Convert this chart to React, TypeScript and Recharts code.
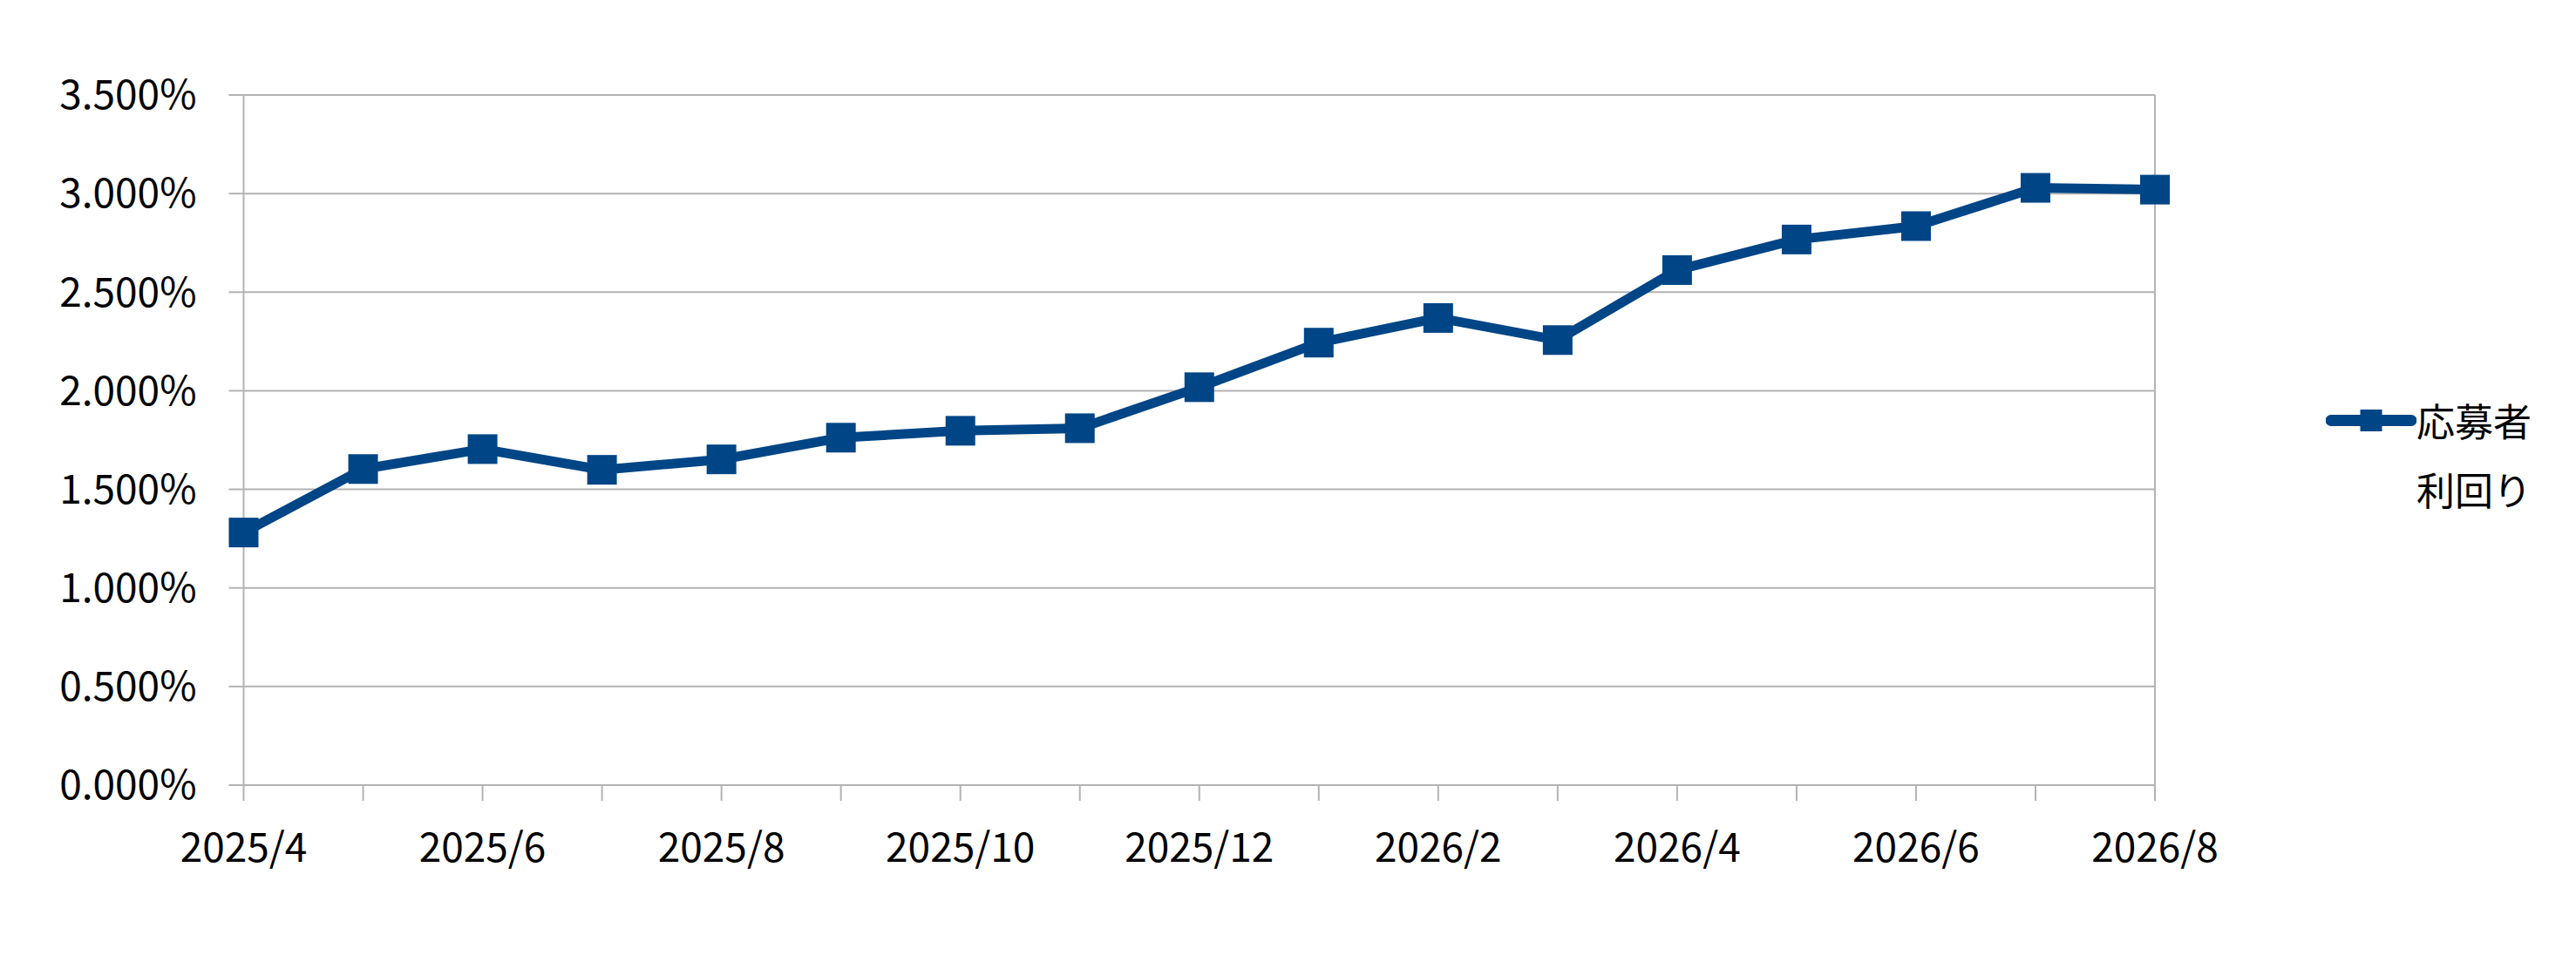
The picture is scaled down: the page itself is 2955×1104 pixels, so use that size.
import { LineChart, Line, XAxis, YAxis, CartesianGrid, Legend, ReferenceLine } from "recharts";

const MONTHS = [
  "2025/4", "2025/5", "2025/6", "2025/7", "2025/8", "2025/9", "2025/10", "2025/11",
  "2025/12", "2026/1", "2026/2", "2026/3", "2026/4", "2026/5", "2026/6", "2026/7", "2026/8",
];

// 応募者利回り (%)
const YIELD = [
  1.281, 1.603, 1.704, 1.599, 1.652, 1.762, 1.797, 1.81,
  2.018, 2.244, 2.369, 2.257, 2.612, 2.767, 2.835, 3.029, 3.02,
];

const Y_TICKS = [0, 0.5, 1, 1.5, 2, 2.5, 3, 3.5];

const SERIES_NAME = ["応募者", "利回り"];

const BLUE = "#004586";
const GRID = "#b3b3b3";
const FONT = '"Noto Sans CJK JP", "Noto Sans", sans-serif';

const data = MONTHS.map((m, i) => ({ month: m, value: YIELD[i] }));

function XTick(props: any) {
  const { x, y, payload } = props;
  const idx = props.index ?? MONTHS.indexOf(payload.value);
  if (idx % 2 !== 0) return <g />;
  return (
    <text x={x} y={y} dy="0.71em" textAnchor="middle" fill="#000" fontSize={46} fontFamily={FONT}>
      {payload.value}
    </text>
  );
}

function SquareDot(props: any) {
  const { cx, cy, index } = props;
  if (cx == null || cy == null) return <g key={`d-${index}`} />;
  return <rect key={`d-${index}`} x={cx - 17} y={cy - 17} width={34} height={34} fill={BLUE} />;
}

function LegendBox() {
  return (
    <div style={{ display: "flex", alignItems: "flex-start", fontFamily: FONT, fontSize: 44, color: "#000", lineHeight: "79px" }}>
      <svg width={104} height={79} style={{ display: "block" }}>
        <line x1={6} y1={39.5} x2={98} y2={39.5} stroke={BLUE} strokeWidth={13} strokeLinecap="round" />
        <rect x={39.5} y={27} width={25} height={25} fill={BLUE} />
      </svg>
      <div>
        {SERIES_NAME.map((s) => (
          <div key={s}>{s}</div>
        ))}
      </div>
    </div>
  );
}

export default function App() {
  return (
    <LineChart
      width={2939}
      height={1088}
      data={data}
      margin={{ top: 101, right: 475, bottom: 95, left: 0 }}
    >
      <CartesianGrid vertical={false} stroke={GRID} strokeWidth={2} />
      <XAxis
        dataKey="month"
        interval={0}
        tick={<XTick />}
        tickSize={18}
        tickMargin={37}
        height={100}
        stroke={GRID}
        strokeWidth={2}
        tickLine={{ stroke: GRID, strokeWidth: 2 }}
        axisLine={{ stroke: GRID, strokeWidth: 2 }}
      />
      <YAxis
        domain={[0, 3.5]}
        ticks={Y_TICKS}
        width={271.5}
        tickSize={17}
        tickMargin={37}
        tickFormatter={(v: number) => `${v.toFixed(3)}%`}
        tick={{ fontSize: 46, fill: "#000", fontFamily: FONT }}
        tickLine={{ stroke: GRID, strokeWidth: 2 }}
        axisLine={{ stroke: GRID, strokeWidth: 2 }}
      />
      <ReferenceLine x={MONTHS[MONTHS.length - 1]} stroke={GRID} strokeWidth={2} />
      <Legend
        layout="vertical"
        align="center"
        verticalAlign="middle"
        content={<LegendBox />}
        wrapperStyle={{ left: 2660, top: 435, width: "auto" }}
      />
      <Line
        type="linear"
        dataKey="value"
        name="応募者利回り"
        stroke={BLUE}
        strokeWidth={11}
        dot={<SquareDot />}
        activeDot={false}
        isAnimationActive={false}
      />
    </LineChart>
  );
}
